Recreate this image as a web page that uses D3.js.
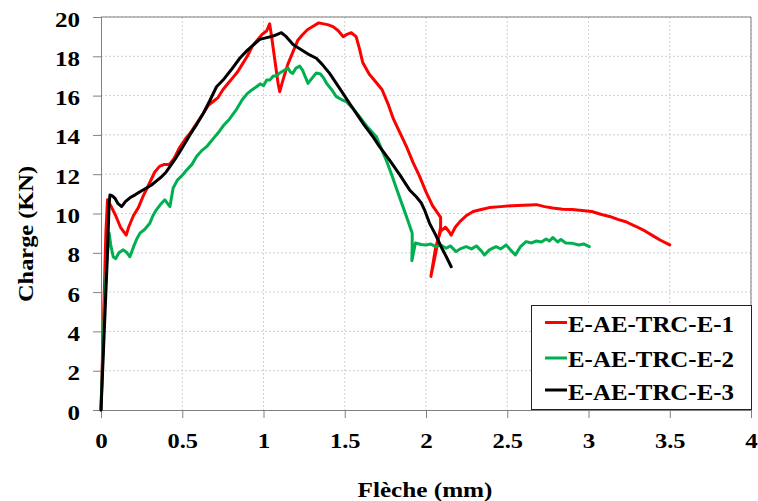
<!DOCTYPE html>
<html><head><meta charset="utf-8">
<script src="https://cdn.jsdelivr.net/npm/d3@7"></script>
<style>body{margin:0;background:#fff}svg{display:block}text{font-family:"Times New Roman","Liberation Serif",Times,serif;font-weight:bold;fill:#000}</style>
</head><body>
<script>
const seriesNames = ["E-AE-TRC-E-1","E-AE-TRC-E-2","E-AE-TRC-E-3"];
const seriesColors = ["#ff0000","#00b050","#000000"];
const xTicks = [0,0.5,1,1.5,2,2.5,3,3.5,4];
const yTicks = [0,2,4,6,8,10,12,14,16,18,20];

const red = [[0,0],[0.01,3],[0.02,6],[0.03,9],[0.04,10.7],[0.06,10.4],[0.09,9.9],[0.12,9.3],[0.155,8.9],[0.17,9.3],[0.2,9.9],[0.23,10.3],[0.26,10.9],[0.29,11.4],[0.33,12.1],[0.36,12.4],[0.39,12.5],[0.42,12.5],[0.45,12.8],[0.48,13.3],[0.52,13.8],[0.55,14.1],[0.59,14.6],[0.63,15.1],[0.66,15.5],[0.69,15.7],[0.72,15.9],[0.75,16.3],[0.78,16.6],[0.81,16.9],[0.84,17.2],[0.87,17.6],[0.9,18.0],[0.93,18.5],[0.96,18.8],[0.99,19.1],[1.02,19.3],[1.038,19.65],[1.05,19.0],[1.07,17.8],[1.09,16.6],[1.1,16.2],[1.12,16.8],[1.15,17.6],[1.18,18.2],[1.21,18.8],[1.24,19.1],[1.27,19.35],[1.3,19.5],[1.34,19.7],[1.37,19.65],[1.4,19.6],[1.43,19.5],[1.46,19.3],[1.49,19.0],[1.51,19.1],[1.54,19.2],[1.57,19.0],[1.59,18.4],[1.61,17.7],[1.65,17.1],[1.7,16.6],[1.73,16.3],[1.77,15.5],[1.8,14.8],[1.84,14.1],[1.88,13.4],[1.92,12.6],[1.96,11.9],[2.0,11.1],[2.04,10.4],[2.09,9.8],[2.09,9.3],[2.06,8.0],[2.03,6.8],[2.06,8.3],[2.09,9.1],[2.12,9.3],[2.14,9.1],[2.155,8.9],[2.18,9.3],[2.21,9.6],[2.25,9.9],[2.29,10.1],[2.34,10.2],[2.39,10.3],[2.46,10.35],[2.53,10.4],[2.6,10.42],[2.68,10.45],[2.73,10.35],[2.78,10.28],[2.84,10.22],[2.9,10.2],[2.96,10.15],[3.02,10.1],[3.08,9.95],[3.13,9.85],[3.18,9.7],[3.23,9.58],[3.29,9.35],[3.35,9.1],[3.4,8.85],[3.44,8.65],[3.5,8.4]];

const green = [[0,0],[0.01,2.5],[0.02,5],[0.035,7.5],[0.05,9.0],[0.06,8.4],[0.075,7.8],[0.09,7.7],[0.11,8.0],[0.137,8.15],[0.16,8.0],[0.178,7.8],[0.2,8.3],[0.22,8.7],[0.24,9.0],[0.27,9.2],[0.3,9.5],[0.32,9.9],[0.342,10.2],[0.37,10.5],[0.393,10.7],[0.41,10.5],[0.424,10.35],[0.444,11.3],[0.47,11.7],[0.5,11.95],[0.526,12.2],[0.56,12.5],[0.588,12.9],[0.62,13.2],[0.65,13.4],[0.67,13.6],[0.7,13.9],[0.73,14.2],[0.751,14.45],[0.79,14.8],[0.834,15.3],[0.87,15.8],[0.9,16.1],[0.93,16.3],[0.957,16.45],[0.98,16.6],[1.0,16.5],[1.02,16.8],[1.04,16.8],[1.06,17.0],[1.08,17.0],[1.1,17.15],[1.13,17.3],[1.151,17.4],[1.165,17.2],[1.18,17.13],[1.2,17.4],[1.223,17.5],[1.24,17.3],[1.26,16.9],[1.274,16.62],[1.3,16.9],[1.325,17.15],[1.35,17.1],[1.37,16.9],[1.39,16.6],[1.42,16.3],[1.448,15.95],[1.48,15.8],[1.51,15.69],[1.55,15.35],[1.591,14.93],[1.64,14.4],[1.694,13.91],[1.72,13.4],[1.755,12.72],[1.79,11.95],[1.817,11.3],[1.858,10.35],[1.89,9.6],[1.915,9.0],[1.915,8.3],[1.913,7.6],[1.935,8.5],[1.97,8.42],[2.0,8.4],[2.03,8.45],[2.06,8.3],[2.09,8.4],[2.124,8.23],[2.15,8.35],[2.185,8.06],[2.21,8.2],[2.247,8.31],[2.28,8.2],[2.31,8.35],[2.34,8.1],[2.36,7.89],[2.39,8.15],[2.431,8.31],[2.46,8.2],[2.493,8.4],[2.52,8.15],[2.55,7.89],[2.58,8.3],[2.616,8.57],[2.65,8.5],[2.68,8.6],[2.71,8.55],[2.739,8.7],[2.76,8.6],[2.78,8.78],[2.81,8.55],[2.83,8.68],[2.86,8.5],[2.902,8.48],[2.94,8.4],[2.97,8.45],[3.005,8.31]];

const black = [[0,0],[0.02,4],[0.04,8],[0.05,10.5],[0.055,10.94],[0.07,10.9],[0.086,10.77],[0.105,10.5],[0.127,10.35],[0.15,10.6],[0.178,10.8],[0.21,10.95],[0.24,11.11],[0.28,11.3],[0.311,11.45],[0.34,11.65],[0.373,11.87],[0.4,12.1],[0.424,12.38],[0.455,12.75],[0.485,13.15],[0.515,13.55],[0.547,14.0],[0.59,14.55],[0.629,15.09],[0.67,15.75],[0.711,16.45],[0.751,16.79],[0.8,17.3],[0.854,17.9],[0.9,18.3],[0.94,18.6],[0.977,18.86],[1.02,18.95],[1.059,19.03],[1.085,19.12],[1.11,19.2],[1.14,19.0],[1.182,18.6],[1.23,18.35],[1.284,18.07],[1.325,17.9],[1.36,17.6],[1.407,17.13],[1.45,16.6],[1.489,16.11],[1.53,15.6],[1.571,15.1],[1.62,14.5],[1.673,13.91],[1.714,13.4],[1.776,12.72],[1.84,11.95],[1.899,11.2],[1.94,10.85],[1.97,10.55],[1.99,10.2],[2.022,9.5],[2.06,8.9],[2.093,8.31],[2.125,7.8],[2.155,7.29]];

const seriesData = [red, green, black];

const W = 758, H = 501;
const L = 101, R = 751, T = 17, B = 410;
const FONT = '"Times New Roman", "Liberation Serif", Times, serif';
const svg = d3.select("body").append("svg").attr("width", W).attr("height", H);
const x = d3.scaleLinear().domain([0,4]).range([L,R]);
const y = d3.scaleLinear().domain([0,20]).range([B,T]);

// grid
const grid = svg.append("g");
grid.selectAll(".gx").data(xTicks.slice(1)).join("line")
  .attr("x1", d=>x(d)).attr("x2", d=>x(d)).attr("y1", T).attr("y2", B)
  .attr("stroke", "#cfcfcf").attr("stroke-dasharray", "2,2");
grid.selectAll(".gy").data(yTicks.slice(1)).join("line")
  .attr("x1", L).attr("x2", R).attr("y1", d=>y(d)).attr("y2", d=>y(d))
  .attr("stroke", "#cfcfcf").attr("stroke-dasharray", "2,2");

// frame top/right
svg.append("line").attr("x1", L).attr("x2", R).attr("y1", T).attr("y2", T).attr("stroke", "#808080");
svg.append("line").attr("x1", R).attr("x2", R).attr("y1", T).attr("y2", B).attr("stroke", "#808080");

// target text width, as in the reference (slightly wide glyphs)
const labelWidth = s => [...s].reduce((w, c) => w + (c === "." ? 5.5 : 12.5), 0);

// axes
const fmt = d => String(d);
const xa = svg.append("g").attr("transform", `translate(0,${B})`)
  .call(d3.axisBottom(x).tickValues(xTicks).tickFormat(fmt).tickSize(8).tickPadding(14));
const ya = svg.append("g").attr("transform", `translate(${L},0)`)
  .call(d3.axisLeft(y).tickValues(yTicks).tickFormat(fmt).tickSize(8).tickPadding(14));
[xa, ya].forEach(a => {
  a.attr("font-family", null);
  a.select(".domain").attr("stroke", "#808080");
  a.selectAll(".tick line").attr("stroke", "#808080");
  a.selectAll(".tick text").style("font-family", FONT).style("font-weight", "bold").attr("fill", "#000")
    .attr("textLength", d => labelWidth(fmt(d))).attr("lengthAdjust", "spacingAndGlyphs");
});
xa.selectAll(".tick text").style("font-size", "22px").attr("dy", null).attr("y", 38);
ya.selectAll(".tick text").style("font-size", "20.5px").attr("x", -21).attr("dy", null).attr("y", 9);

// lines
const line = d3.line().x(d=>x(d[0])).y(d=>y(d[1]));
seriesData.forEach((s, i) => {
  svg.append("path").datum(s).attr("d", line)
    .attr("fill", "none").attr("stroke", seriesColors[i]).attr("stroke-width", 3)
    .attr("stroke-linejoin", "round").attr("stroke-linecap", "round");
});

// titles
svg.append("text").attr("x", 425).attr("y", 497).attr("text-anchor", "middle")
  .style("font-size", "22px").attr("textLength", 135).attr("lengthAdjust", "spacingAndGlyphs").text("Flèche (mm)");
svg.append("text").attr("transform", "translate(33,234) rotate(-90)").attr("text-anchor", "middle")
  .style("font-size", "22px").attr("textLength", 136).attr("lengthAdjust", "spacingAndGlyphs").text("Charge (KN)");

// legend
const lg = svg.append("g");
lg.append("rect").attr("x", 531.5).attr("y", 305.5).attr("width", 220).attr("height", 104)
  .attr("fill", "#fff").attr("stroke", "#222").attr("stroke-width", 1);
const rowsY = [322.5, 358, 390];
const baseY = [332, 367, 400];
seriesNames.forEach((n, i) => {
  lg.append("line").attr("x1", 545).attr("x2", 567).attr("y1", rowsY[i]).attr("y2", rowsY[i])
    .attr("stroke", seriesColors[i]).attr("stroke-width", 3);
  lg.append("text").attr("x", 568).attr("y", baseY[i]).style("font-size", "24px")
    .attr("textLength", 166).attr("lengthAdjust", "spacingAndGlyphs").text(n);
});
</script>
</body></html>
